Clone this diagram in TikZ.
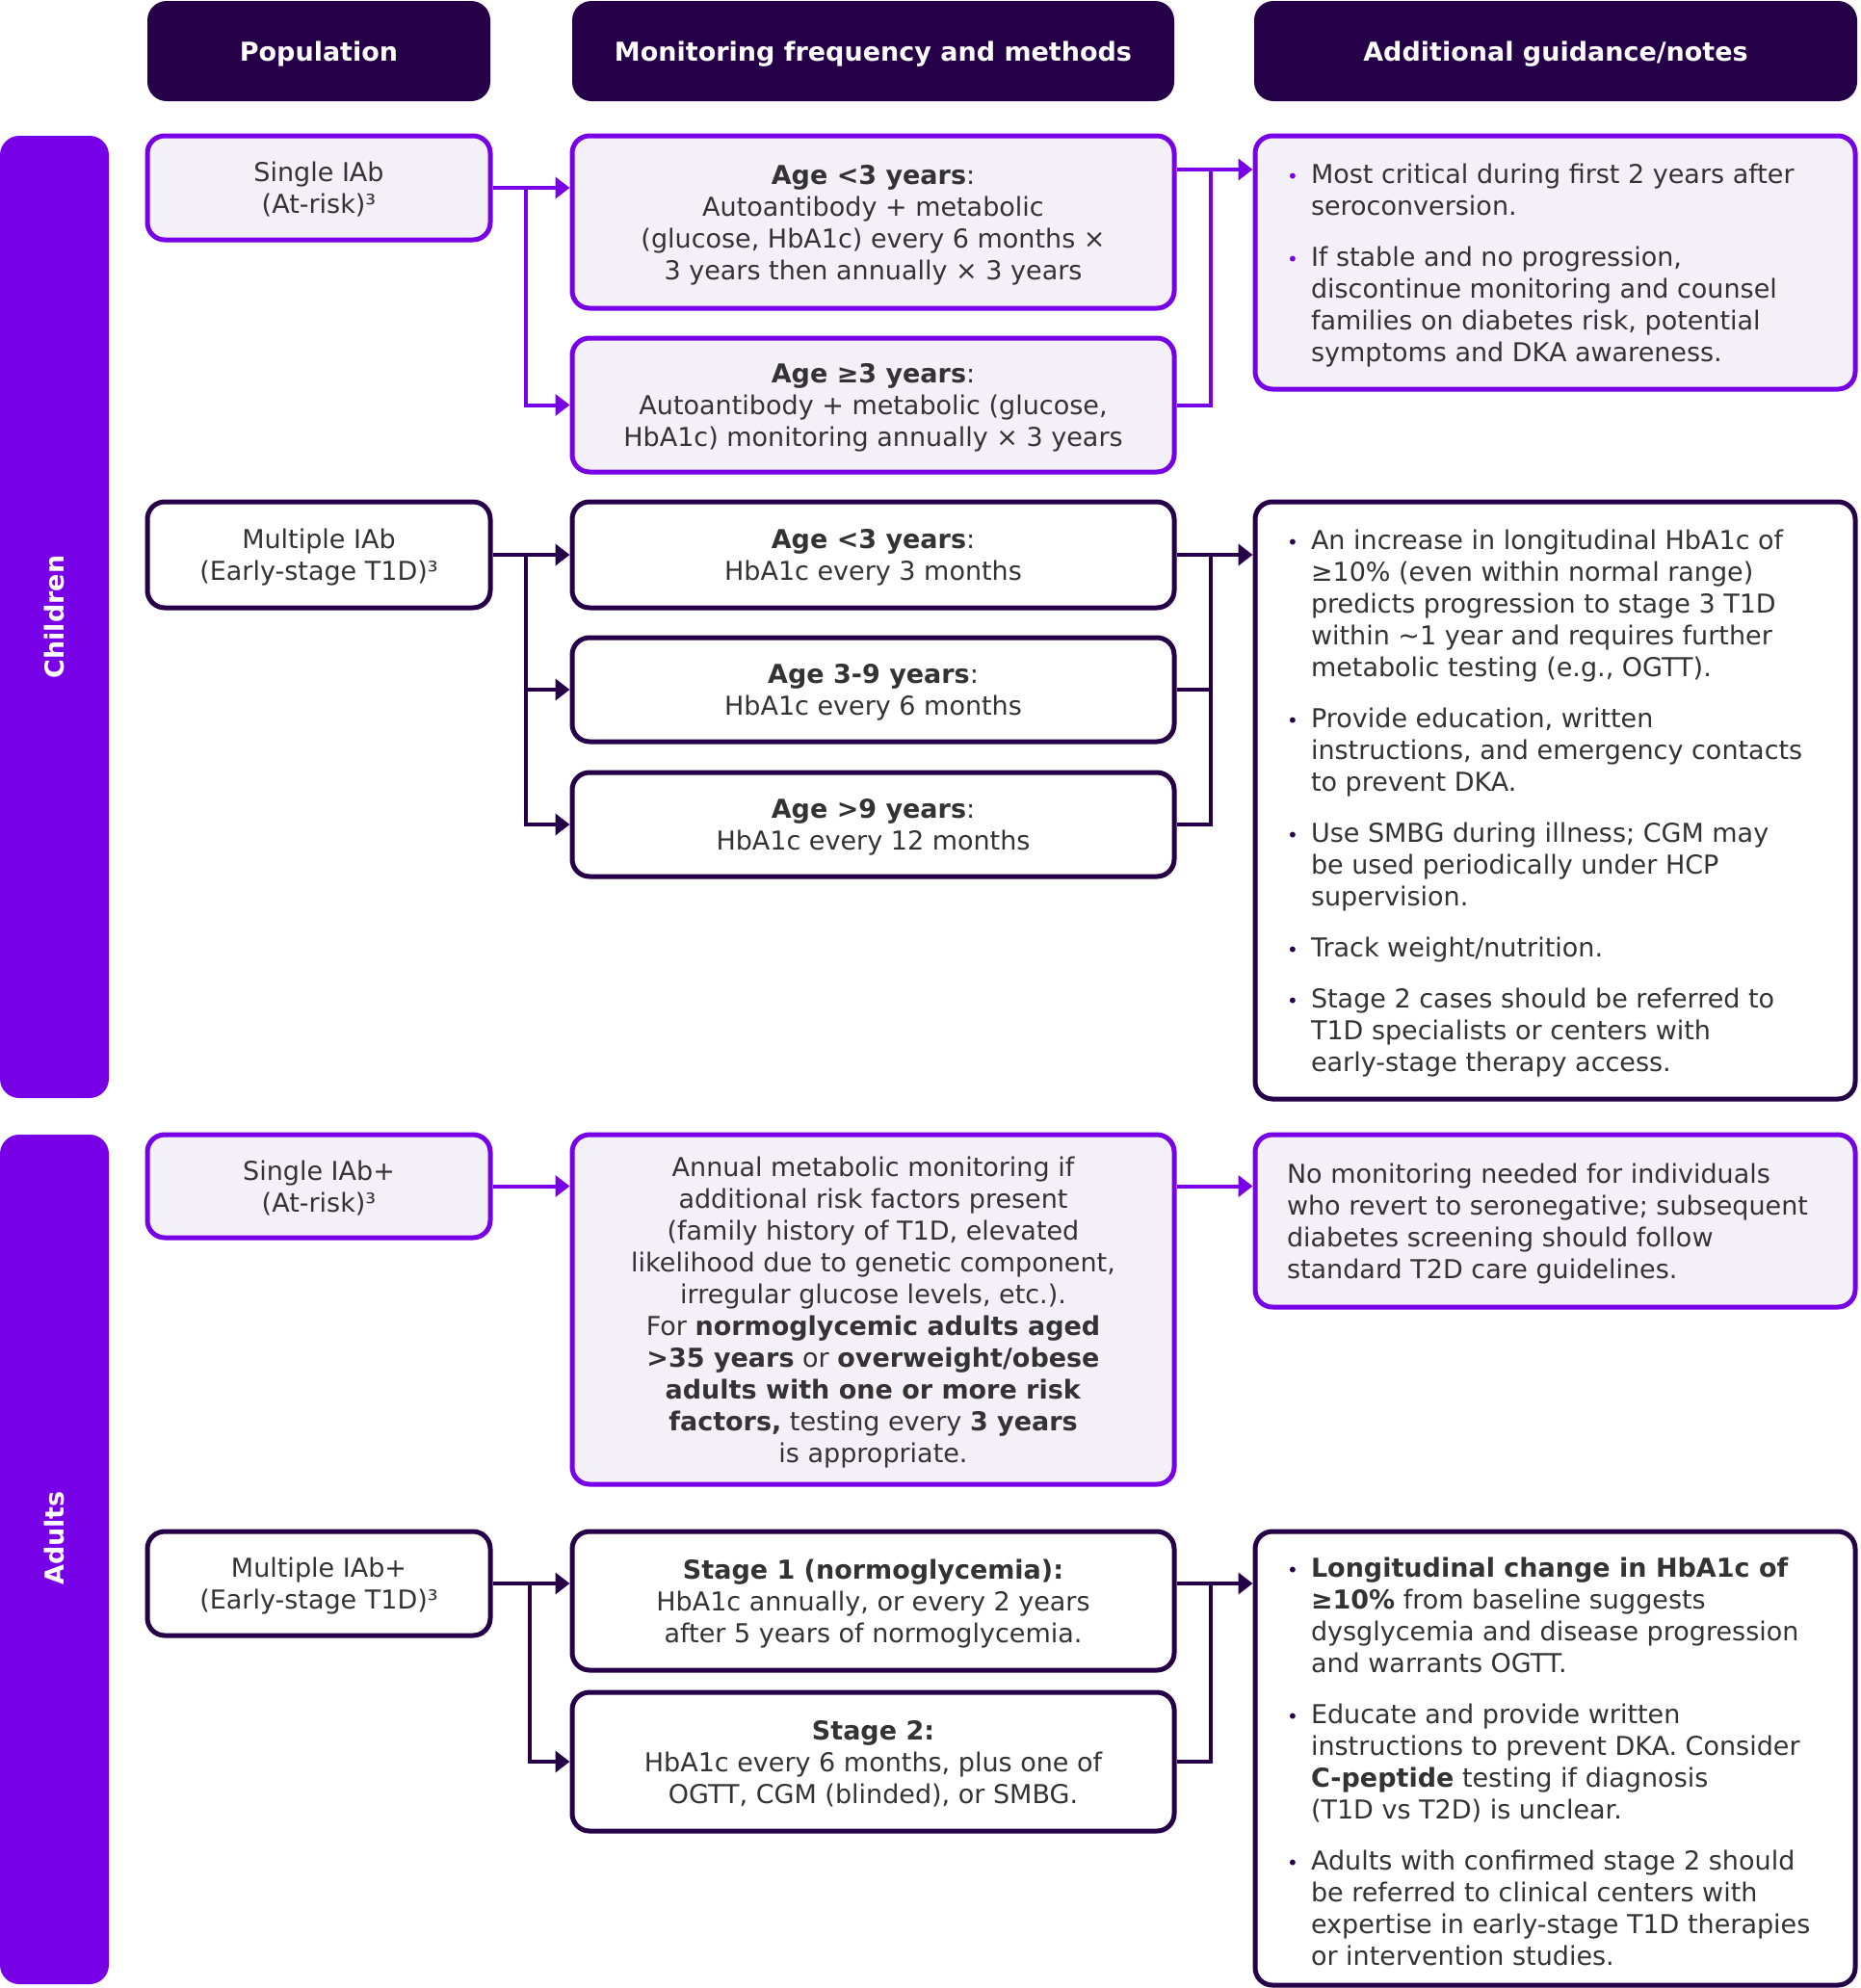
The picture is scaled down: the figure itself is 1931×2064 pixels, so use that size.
\documentclass[tikz,border=0pt]{standalone}
\usepackage{fontspec}
\setmainfont{DejaVu Sans}
\usetikzlibrary{arrows.meta}
\definecolor{vio}{RGB}{120,0,230}
\definecolor{dpur}{RGB}{37,0,72}
\definecolor{lfill}{RGB}{243,241,247}
\definecolor{txt}{RGB}{51,51,51}
\newcommand\bitem[2]{\par\hangindent=25pt\hangafter=1\noindent\makebox[25pt][l]{\textcolor{#1}{\fontsize{20}{33}\selectfont •}}#2\par}
\newcommand\gapp{\vspace{20pt}}
\newcommand\lw[1]{\raisebox{-3.5pt}[\height][\depth]{#1}}
\newcommand\ct[1]{\lw{\begin{tabular}{@{}c@{}}#1\end{tabular}}}
\newenvironment{notes}{\begin{minipage}{557pt}\parindent=0pt\parskip=0pt}{\end{minipage}}
\tikzset{
  every node/.style={font=\fontsize{27}{33}\selectfont, text=txt},
  boxp/.style={draw=vio, line width=5pt, fill=lfill, rounded corners=18pt, inner sep=0pt},
  boxd/.style={draw=dpur, line width=5pt, fill=white, rounded corners=18pt, inner sep=0pt},
  hdr/.style={fill=dpur, rounded corners=20pt, inner sep=0pt, text=white, font=\fontsize{27}{33}\selectfont\bfseries},
  side/.style={fill=vio, rounded corners=20pt, inner sep=0pt},
  sidelbl/.style={rotate=90, text=white, font=\fontsize{27}{33}\selectfont\bfseries},
  lnp/.style={draw=vio, line width=4pt},
  lnd/.style={draw=dpur, line width=4pt},
  arp/.style={lnp, -{Triangle[length=15pt,width=22pt]}},
  ard/.style={lnd, -{Triangle[length=15pt,width=22pt]}},
  c1/.style={minimum width=356pt},
  c2/.style={minimum width=625pt},
  c3/.style={minimum width=623pt},
}
\begin{document}
\begin{tikzpicture}[x=1pt,y=-1pt]
\useasboundingbox (0,0) rectangle (1931,2064);

% headers
\node[hdr, minimum width=356pt, minimum height=104pt] (h1) at (331,53) {\lw{Population}};
\node[hdr, minimum width=625pt, minimum height=104pt] (h2) at (906.5,53) {\lw{Monitoring frequency and methods}};
\node[hdr, minimum width=626pt, minimum height=104pt] (h3) at (1615,53) {\lw{Additional guidance/notes}};

% side bars
\node[side, minimum width=113pt, minimum height=999pt] (sc) at (56.5,640.5) {};
\node[sidelbl] (scl) at (sc.center) {Children};
\node[side, minimum width=113pt, minimum height=882pt] (sa) at (56.5,1619) {};
\node[sidelbl] (sal) at (56.5,1597) {Adults};

% column 1
\node[boxp, c1, minimum height=108pt] (p1) at (331,195) {\ct{Single IAb\\(At-risk)³}};
\node[boxd, c1, minimum height=110pt] (p2) at (331,576) {\ct{Multiple IAb\\(Early-stage T1D)³}};
\node[boxp, c1, minimum height=107pt] (p3) at (331,1231.5) {\ct{Single IAb+\\(At-risk)³}};
\node[boxd, c1, minimum height=108pt] (p4) at (331,1644) {\ct{Multiple IAb+\\(Early-stage T1D)³}};

% column 2
\node[boxp, c2, minimum height=179pt] (a1) at (906.5,230.5) {\ct{\textbf{Age <3 years}:\\Autoantibody + metabolic\\(glucose, HbA1c) every 6 months ×\\3 years then annually × 3 years}};
\node[boxp, c2, minimum height=139pt] (a2) at (906.5,420.5) {\ct{\textbf{Age ≥3 years}:\\Autoantibody + metabolic (glucose,\\HbA1c) monitoring annually × 3 years}};
\node[boxd, c2, minimum height=110pt] (b1) at (906.5,576) {\ct{\textbf{Age <3 years}:\\HbA1c every 3 months}};
\node[boxd, c2, minimum height=108pt] (b2) at (906.5,716) {\ct{\textbf{Age 3-9 years}:\\HbA1c every 6 months}};
\node[boxd, c2, minimum height=108pt] (b3) at (906.5,856) {\ct{\textbf{Age >9 years}:\\HbA1c every 12 months}};
\node[boxp, c2, minimum height=363pt] (m1) at (906.5,1359.5) {\ct{Annual metabolic monitoring if\\additional risk factors present\\(family history of T1D, elevated\\likelihood due to genetic component,\\irregular glucose levels, etc.).\\For \textbf{normoglycemic adults aged}\\\textbf{>35 years} or \textbf{overweight/obese}\\\textbf{adults with one or more risk}\\\textbf{factors,} testing every \textbf{3 years}\\is appropriate.}};
\node[boxd, c2, minimum height=144pt] (d1) at (906.5,1662) {\ct{\textbf{Stage 1 (normoglycemia):}\\HbA1c annually, or every 2 years\\after 5 years of normoglycemia.}};
\node[boxd, c2, minimum height=144pt] (d2) at (906.5,1829) {\ct{\textbf{Stage 2:}\\HbA1c every 6 months, plus one of\\OGTT, CGM (blinded), or SMBG.}};

% column 3
\node[boxp, c3, minimum height=263pt] (n1) at (1614.5,272.5) {\lw{\begin{notes}
\bitem{vio}{Most critical during first 2 years after\newline seroconversion.}\gapp
\bitem{vio}{If stable and no progression,\newline discontinue monitoring and counsel\newline families on diabetes risk, potential\newline symptoms and DKA awareness.}
\end{notes}}};
\node[boxd, c3, minimum height=620pt] (n2) at (1614.5,831) {\lw{\begin{notes}
\bitem{dpur}{An increase in longitudinal HbA1c of\newline ≥10\% (even within normal range)\newline predicts progression to stage 3 T1D\newline within \textasciitilde1 year and requires further\newline metabolic testing (e.g., OGTT).}\gapp
\bitem{dpur}{Provide education, written\newline instructions, and emergency contacts\newline to prevent DKA.}\gapp
\bitem{dpur}{Use SMBG during illness; CGM may\newline be used periodically under HCP\newline supervision.}\gapp
\bitem{dpur}{Track weight/nutrition.}\gapp
\bitem{dpur}{Stage 2 cases should be referred to\newline T1D specialists or centers with\newline early-stage therapy access.}
\end{notes}}};
\node[boxp, c3, minimum height=179pt] (n3) at (1614.5,1267.5) {\lw{\begin{notes}
No monitoring needed for individuals\newline who revert to seronegative; subsequent\newline diabetes screening should follow\newline standard T2D care guidelines.
\end{notes}}};
\node[boxd, c3, minimum height=471pt] (n4) at (1614.5,1825.5) {\lw{\begin{notes}
\bitem{dpur}{\textbf{Longitudinal change in HbA1c of}\newline \textbf{≥10\%} from baseline suggests\newline dysglycemia and disease progression\newline and warrants OGTT.}\gapp
\bitem{dpur}{Educate and provide written\newline instructions to prevent DKA. Consider\newline \textbf{C-peptide} testing if diagnosis\newline (T1D vs T2D) is unclear.}\gapp
\bitem{dpur}{Adults with confirmed stage 2 should\newline be referred to clinical centers with\newline expertise in early-stage T1D therapies\newline or intervention studies.}
\end{notes}}};

% connectors: children at-risk
\coordinate (j1) at (546,195);
\coordinate (k1) at (1257,176);
\draw[arp] (p1.east) -- (p1.east -| a1.west);
\draw[arp] (j1) |- (a2.west);
\draw[arp] (k1 -| a1.east) -- (k1 -| n1.west);
\draw[lnp] (a2.east) -| (k1);

% children multiple
\coordinate (j2) at (546,576);
\coordinate (k2) at (1257,576);
\draw[ard] (p2.east) -- (b1.west);
\draw[ard] (j2) |- (b2.west);
\draw[ard] (j2) |- (b3.west);
\draw[ard] (b1.east) -- (b1.east -| n2.west);
\draw[lnd] (b2.east) -| (k2);
\draw[lnd] (b3.east) -| (k2);

% adults single
\draw[arp] (p3.east) -- (p3.east -| m1.west);
\draw[arp] (p3.east -| m1.east) -- (p3.east -| n3.west);

% adults multiple
\coordinate (j4) at (550,1644);
\coordinate (k4) at (1257,1644);
\draw[ard] (p4.east) -- (p4.east -| d1.west);
\draw[ard] (j4) |- (d2.west);
\draw[ard] (p4.east -| d1.east) -- (p4.east -| n4.west);
\draw[lnd] (d2.east) -| (k4);
\end{tikzpicture}
\end{document}
